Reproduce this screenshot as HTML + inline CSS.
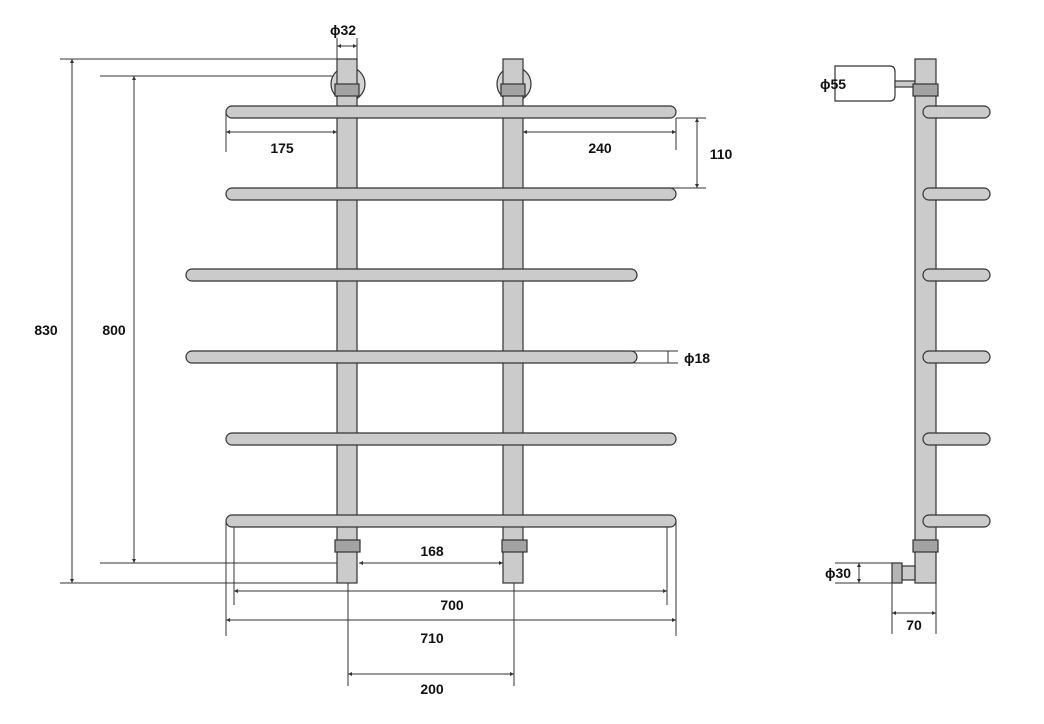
<!DOCTYPE html>
<html><head><style>html,body{margin:0;padding:0;background:#fff}svg{display:block}</style></head><body>
<svg width="1044" height="724" viewBox="0 0 1044 724" xmlns="http://www.w3.org/2000/svg" font-family="Liberation Sans, sans-serif" font-weight="bold" font-size="14">
<defs>
<marker id="a" viewBox="0 0 6 6" refX="6" refY="3" markerWidth="4" markerHeight="4" orient="auto-start-reverse"><path d="M0,0L6,3L0,6z" fill="#333"/></marker>
</defs>
<g stroke="#333" stroke-width="1" fill="none">
<!-- 830 / 800 -->
<line x1="60" y1="59" x2="337" y2="59"/><line x1="60" y1="583" x2="337" y2="583"/>
<line x1="72" y1="59" x2="72" y2="583" marker-start="url(#a)" marker-end="url(#a)"/>
<line x1="100" y1="76" x2="337" y2="76"/><line x1="100" y1="563" x2="337" y2="563"/>
<line x1="134" y1="76" x2="134" y2="563" marker-start="url(#a)" marker-end="url(#a)"/>
<!-- phi32 -->
<line x1="337" y1="38" x2="337" y2="59"/><line x1="357" y1="38" x2="357" y2="59"/>
<line x1="337" y1="46" x2="357" y2="46" marker-start="url(#a)" marker-end="url(#a)"/>
<!-- 175 / 240 / 110 -->
<line x1="226" y1="112" x2="226" y2="152"/>
<line x1="226" y1="132" x2="337" y2="132" marker-start="url(#a)" marker-end="url(#a)"/>
<line x1="676" y1="118" x2="676" y2="150"/>
<line x1="523" y1="132" x2="676" y2="132" marker-start="url(#a)" marker-end="url(#a)"/>
<line x1="676" y1="118" x2="706" y2="118"/><line x1="648" y1="188" x2="706" y2="188"/>
<line x1="697" y1="118" x2="697" y2="188" marker-start="url(#a)" marker-end="url(#a)"/>
<!-- phi18 -->
<line x1="620" y1="351" x2="678" y2="351"/><line x1="620" y1="363" x2="678" y2="363"/>
<line x1="668" y1="351" x2="668" y2="363"/>
<!-- 168 700 710 200 -->
<line x1="359" y1="563" x2="503" y2="563" marker-start="url(#a)" marker-end="url(#a)"/>
<line x1="234" y1="527" x2="234" y2="605"/><line x1="667" y1="527" x2="667" y2="605"/>
<line x1="234" y1="591" x2="667" y2="591" marker-start="url(#a)" marker-end="url(#a)"/>
<line x1="226" y1="520" x2="226" y2="636"/><line x1="676" y1="520" x2="676" y2="636"/>
<line x1="226" y1="620" x2="676" y2="620" marker-start="url(#a)" marker-end="url(#a)"/>
<line x1="348" y1="583" x2="348" y2="686"/><line x1="514" y1="583" x2="514" y2="686"/>
<line x1="348" y1="674" x2="514" y2="674" marker-start="url(#a)" marker-end="url(#a)"/>
<!-- side dims -->
<line x1="835" y1="66" x2="880" y2="66"/><line x1="835" y1="101" x2="880" y2="101"/>
<line x1="857" y1="66" x2="857" y2="101" marker-start="url(#a)" marker-end="url(#a)"/>
<line x1="835" y1="563" x2="892" y2="563"/><line x1="835" y1="583" x2="892" y2="583"/>
<line x1="859" y1="563" x2="859" y2="583" marker-start="url(#a)" marker-end="url(#a)"/>
<line x1="892" y1="583" x2="892" y2="634"/><line x1="936" y1="583" x2="936" y2="634"/>
<line x1="892" y1="613" x2="936" y2="613" marker-start="url(#a)" marker-end="url(#a)"/>
</g>
<g stroke="#333" stroke-width="1.2" fill="#cbcbcb">
<circle cx="348" cy="84" r="17" fill="#d4d4d4"/><circle cx="514" cy="84" r="17" fill="#d4d4d4"/>
<rect x="337" y="59" width="20" height="524"/><rect x="503" y="59" width="20" height="524"/>
<rect x="335" y="84" width="24" height="12" fill="#a3a3a3"/><rect x="501" y="84" width="24" height="12" fill="#a3a3a3"/>
<rect x="335" y="540" width="25" height="12" fill="#a3a3a3"/><rect x="502" y="540" width="25" height="12" fill="#a3a3a3"/>
<rect x="226" y="106" width="450" height="12" rx="6"/>
<rect x="226" y="188" width="450" height="12" rx="6"/>
<rect x="186" y="269" width="451" height="12" rx="6"/>
<rect x="186" y="351" width="451" height="12" rx="6"/>
<rect x="226" y="433" width="450" height="12" rx="6"/>
<rect x="226" y="515" width="450" height="12" rx="6"/>
<!-- side view -->
<path d="M835,66H890Q895,66 895,72V95Q895,101 890,101H835Z" fill="#fff"/>
<rect x="895" y="81" width="20" height="6"/>
<rect x="915" y="59" width="21" height="524"/>
<rect x="913" y="84" width="25" height="12" fill="#a3a3a3"/>
<rect x="913" y="540" width="25" height="12" fill="#a3a3a3"/>
<rect x="923" y="106" width="67" height="12" rx="6"/>
<rect x="923" y="188" width="67" height="12" rx="6"/>
<rect x="923" y="269" width="67" height="12" rx="6"/>
<rect x="923" y="351" width="67" height="12" rx="6"/>
<rect x="923" y="433" width="67" height="12" rx="6"/>
<rect x="923" y="515" width="67" height="12" rx="6"/>
<rect x="902" y="566" width="13" height="14"/>
<rect x="892" y="563" width="10" height="20" fill="#b5b5b5"/>
</g>
<g fill="#111" text-anchor="middle">
<text x="343" y="35">ϕ32</text>
<text x="46" y="335">830</text><text x="114" y="335">800</text>
<text x="282" y="153">175</text><text x="600" y="153">240</text>
<text x="721" y="159">110</text>
<text x="697" y="363">ϕ18</text>
<text x="432" y="556">168</text>
<text x="452" y="610">700</text>
<text x="432" y="643">710</text>
<text x="432" y="694">200</text>
<text x="833" y="89">ϕ55</text>
<text x="838" y="578">ϕ30</text>
<text x="914" y="630">70</text>
</g>
</svg>
</body></html>
